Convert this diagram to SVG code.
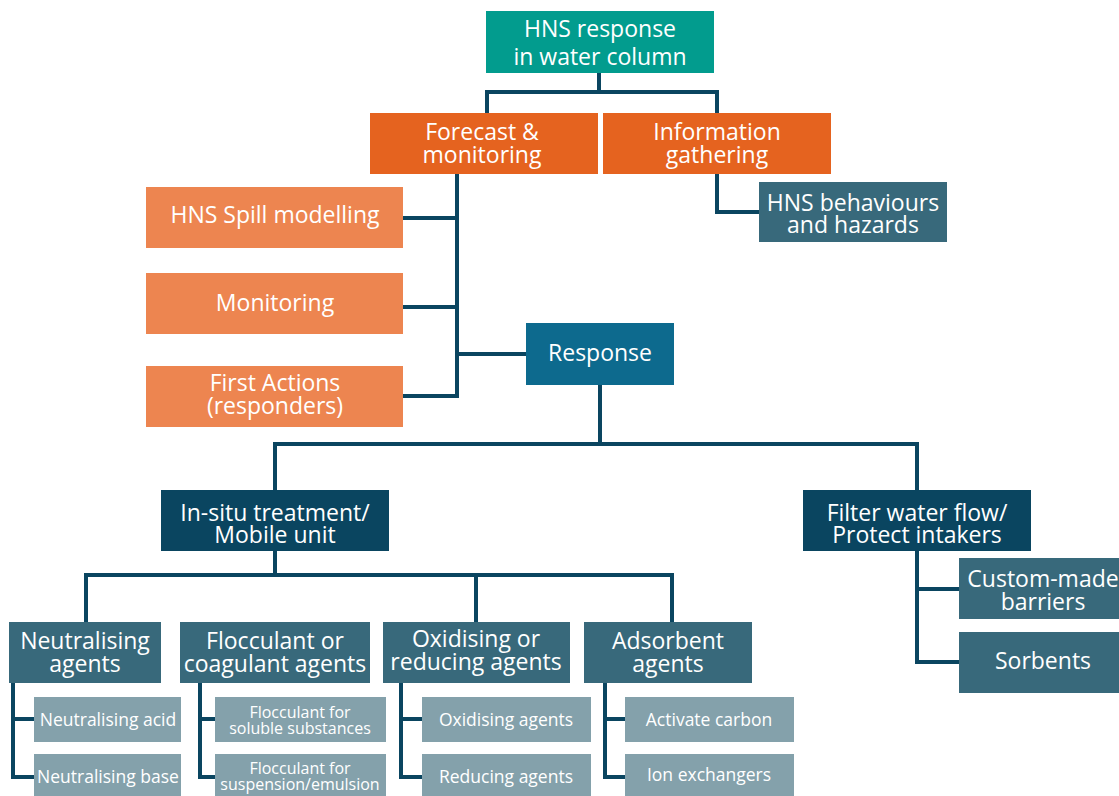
<svg xmlns="http://www.w3.org/2000/svg" width="1119" height="796" viewBox="0 0 1119 796">
<style>
text{font-family:"Open Sans","Noto Sans",sans-serif;fill:#fff;text-anchor:middle}
.b{font-size:23px}
.s{font-size:17.5px}
.s2{font-size:16px}
.teal{fill:#029C8E}
.or{fill:#E5631F}
.lo{fill:#ED8550}
.resp{fill:#0D6A8E}
.navy{fill:#0A4560}
.mid{fill:#38697B}
.lt{fill:#84A1AB}
#connectors path{fill:none;stroke:#0A4560;stroke-width:4}
</style>
<rect width="1119" height="796" fill="#fff"/>
<g id="connectors">
<path d="M599 73V92M487 113V92H717V113"/>
<path d="M717 174V212H759"/>
<path d="M457 174V396H403M403 218H457M403 307H457M457 354H526"/>
<path d="M600 385V444M275 490V444H917V490"/>
<path d="M917 551V662H959M917 589H959"/>
<path d="M275 551V575M86 622V575H672V622M476 575V622"/>
<path d="M13 683V777H34M13 719H34"/>
<path d="M200 683V777H215M200 719H215"/>
<path d="M401 683V777H422M401 719H422"/>
<path d="M605 683V777H625M605 719H625"/>
</g>
<g id="top"><rect class="teal" x="486" y="11" width="228" height="62"/><text class="b" x="600" y="37">HNS response<tspan x="600" dy="28">in water column</tspan></text></g>
<g id="forecast"><rect class="or" x="370" y="113" width="228" height="61"/><text class="b" x="482" y="140">Forecast &amp;<tspan x="482" dy="23">monitoring</tspan></text></g>
<g id="info"><rect class="or" x="603" y="113" width="228" height="61"/><text class="b" x="717" y="140">Information<tspan x="717" dy="23">gathering</tspan></text></g>
<g id="behaviours"><rect class="mid" x="759" y="182" width="188" height="60"/><text class="b" x="853" y="211">HNS behaviours<tspan x="853" dy="22">and hazards</tspan></text></g>
<g id="spill"><rect class="lo" x="146" y="187" width="257" height="61"/><text class="b" x="275" y="223">HNS Spill modelling</text></g>
<g id="monitoring"><rect class="lo" x="146" y="273" width="257" height="61"/><text class="b" x="275" y="311">Monitoring</text></g>
<g id="first"><rect class="lo" x="146" y="366" width="257" height="61"/><text class="b" x="275" y="391">First Actions<tspan x="275" dy="23">(responders)</tspan></text></g>
<g id="response"><rect class="resp" x="526" y="323" width="148" height="62"/><text class="b" x="600" y="361">Response</text></g>
<g id="insitu"><rect class="navy" x="161" y="490" width="228" height="61"/><text class="b" x="275" y="521">In-situ treatment/<tspan x="275" dy="22">Mobile unit</tspan></text></g>
<g id="filter"><rect class="navy" x="803" y="490" width="228" height="61"/><text class="b" x="917" y="521">Filter water flow/<tspan x="917" dy="22">Protect intakers</tspan></text></g>
<g id="custom"><rect class="mid" x="959" y="558" width="160" height="61"/><text class="b" x="1043" y="587">Custom-made<tspan x="1043" dy="23">barriers</tspan></text></g>
<g id="sorbents"><rect class="mid" x="959" y="632" width="160" height="61"/><text class="b" x="1043" y="669">Sorbents</text></g>
<g id="neutralising"><rect class="mid" x="9" y="622" width="152" height="61"/><text class="b" x="85" y="649">Neutralising<tspan x="85" dy="23">agents</tspan></text></g>
<g id="flocculant"><rect class="mid" x="180" y="622" width="190" height="61"/><text class="b" x="275" y="649">Flocculant or<tspan x="275" dy="23">coagulant agents</tspan></text></g>
<g id="oxidising"><rect class="mid" x="383" y="622" width="187" height="61"/><text class="b" x="476" y="647">Oxidising or<tspan x="476" dy="23">reducing agents</tspan></text></g>
<g id="adsorbent"><rect class="mid" x="584" y="622" width="168" height="61"/><text class="b" x="668" y="649">Adsorbent<tspan x="668" dy="23">agents</tspan></text></g>
<g id="acid"><rect class="lt" x="34" y="697" width="147" height="45"/><text class="s" x="108" y="726">Neutralising acid</text></g>
<g id="base"><rect class="lt" x="34" y="754" width="147" height="45"/><text class="s" x="108" y="783">Neutralising base</text></g>
<g id="soluble"><rect class="lt" x="215" y="697" width="171" height="45"/><text class="s2" x="300" y="718">Flocculant for<tspan x="300" dy="16">soluble substances</tspan></text></g>
<g id="suspension"><rect class="lt" x="215" y="754" width="171" height="45"/><text class="s2" x="300" y="774">Flocculant for<tspan x="300" dy="16">suspension/emulsion</tspan></text></g>
<g id="oxag"><rect class="lt" x="422" y="697" width="169" height="45"/><text class="s" x="506" y="726">Oxidising agents</text></g>
<g id="redag"><rect class="lt" x="422" y="754" width="169" height="45"/><text class="s" x="506" y="783">Reducing agents</text></g>
<g id="carbon"><rect class="lt" x="625" y="697" width="169" height="45"/><text class="s" x="709" y="726">Activate carbon</text></g>
<g id="ion"><rect class="lt" x="625" y="754" width="169" height="45"/><text class="s" x="709" y="781">Ion exchangers</text></g>
</svg>
